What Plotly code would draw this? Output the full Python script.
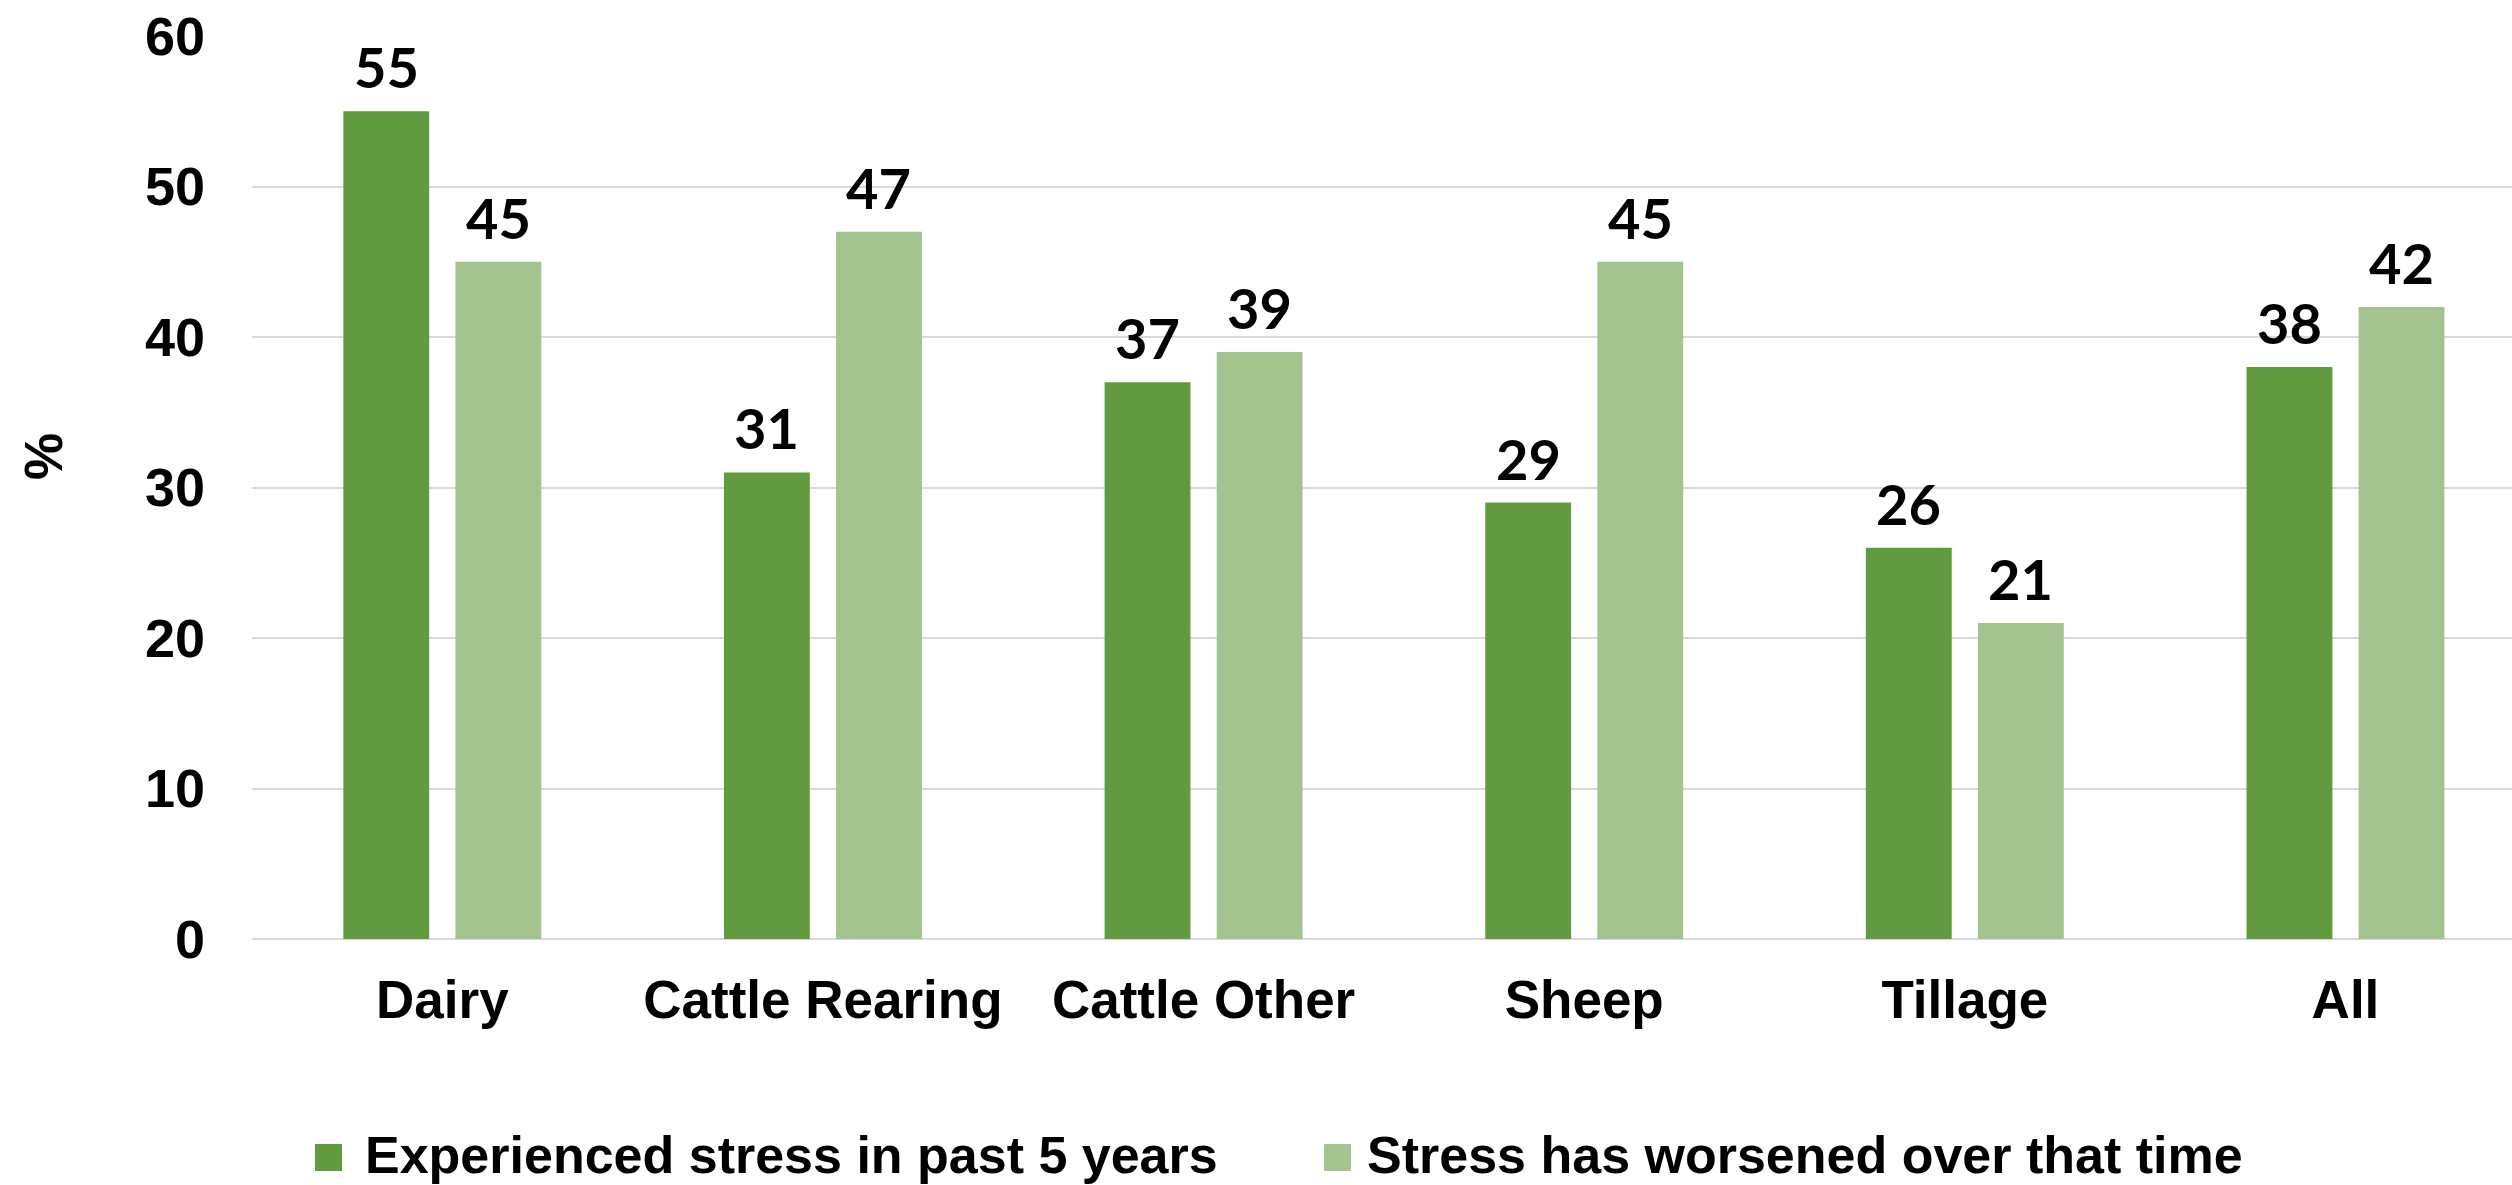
import plotly.graph_objects as go

# Farm system categories and survey percentages
categories = ["Dairy", "Cattle Rearing", "Cattle Other", "Sheep", "Tillage", "All"]
series_names = ["Experienced stress in past 5 years", "Stress has worsened over that time"]
experienced = [55, 31, 37, 29, 26, 38]
worsened = [45, 47, 39, 45, 21, 42]
y_ticks = [0, 10, 20, 30, 40, 50, 60]
y_title = "%"

# Styling
W, H = 2512, 1185
DARK = "#629A3F"
LIGHT = "#A3C48F"
GRID = "#D9D9D9"
AXIS_FONT = "Liberation Sans, Arial, sans-serif"
LABEL_FONT = "Lato, sans-serif"
BARGAP, BARGROUPGAP = 0.411, 0.234
X_RANGE = [-0.5, 5.4375]

# Plot area in pixels
L, R, T, B = 252, 0, 36, 246
plot_w = W - L - R
plot_h = H - T - B
px_per_cat = plot_w / (X_RANGE[1] - X_RANGE[0])


def px_x(x):
    """Pixel x -> paper x."""
    return (x - L) / plot_w


def px_y(y):
    """Pixel y -> paper y."""
    return (H - B - y) / plot_h


series = [(series_names[0], experienced, DARK), (series_names[1], worsened, LIGHT)]
n = len(series)

fig = go.Figure()
annotations = []
for i, (name, vals, col) in enumerate(series):
    fig.add_trace(go.Bar(
        x=categories, y=vals, name=name,
        marker=dict(color=col, line=dict(width=0)),
        showlegend=False, hoverinfo="x+y",
    ))
    # value labels sitting above each bar of this series
    offset_px = (1 - BARGAP) / n * (i - (n - 1) / 2) * px_per_cat
    for cat, v in zip(categories, vals):
        annotations.append(dict(
            text=str(v), x=cat, y=v, xref="x", yref="y",
            xshift=offset_px, yshift=9, xanchor="center", yanchor="bottom",
            showarrow=False,
            font=dict(family=LABEL_FONT, size=56, color="#000000", weight="bold"),
        ))

# Legend drawn below the plot: colour square + bold label
legend_items = [
    (series_names[0], DARK, 315, 363),
    (series_names[1], LIGHT, 1324, 1365),
]
shapes = []
for name, col, sq_x, tx_x in legend_items:
    shapes.append(dict(
        type="rect", xref="paper", yref="paper",
        x0=px_x(sq_x), x1=px_x(sq_x + 27), y0=px_y(1171), y1=px_y(1144),
        fillcolor=col, line=dict(width=0),
    ))
    annotations.append(dict(
        text=name, xref="paper", yref="paper", x=px_x(tx_x), y=px_y(1155),
        xanchor="left", yanchor="middle", showarrow=False,
        font=dict(family=AXIS_FONT, size=52, color="#000000", weight="bold"),
    ))

# Rotated y-axis title
annotations.append(dict(
    text=y_title, xref="paper", yref="paper", x=px_x(43), y=px_y(457),
    xanchor="center", yanchor="middle", showarrow=False, textangle=-90,
    font=dict(family=AXIS_FONT, size=53, color="#000000", weight="bold"),
))

fig.update_layout(
    width=W, height=H,
    margin=dict(l=L, r=R, t=T, b=B, pad=0),
    paper_bgcolor="white", plot_bgcolor="white",
    barmode="group", bargap=BARGAP, bargroupgap=BARGROUPGAP,
    shapes=shapes, annotations=annotations,
    xaxis=dict(
        range=X_RANGE, showgrid=False, showline=False, zeroline=False,
        ticks="", ticklabelstandoff=25,
        tickfont=dict(family=AXIS_FONT, size=53, color="#000000", weight="bold"),
    ),
    yaxis=dict(
        range=[0, 60], tickvals=y_ticks, showgrid=True, gridcolor=GRID, gridwidth=2,
        zeroline=True, zerolinecolor=GRID, zerolinewidth=2, showline=False,
        ticks="", ticklabelstandoff=46,
        tickfont=dict(family=AXIS_FONT, size=54, color="#000000", weight="bold"),
    ),
)

fig.write_html("out.html")
